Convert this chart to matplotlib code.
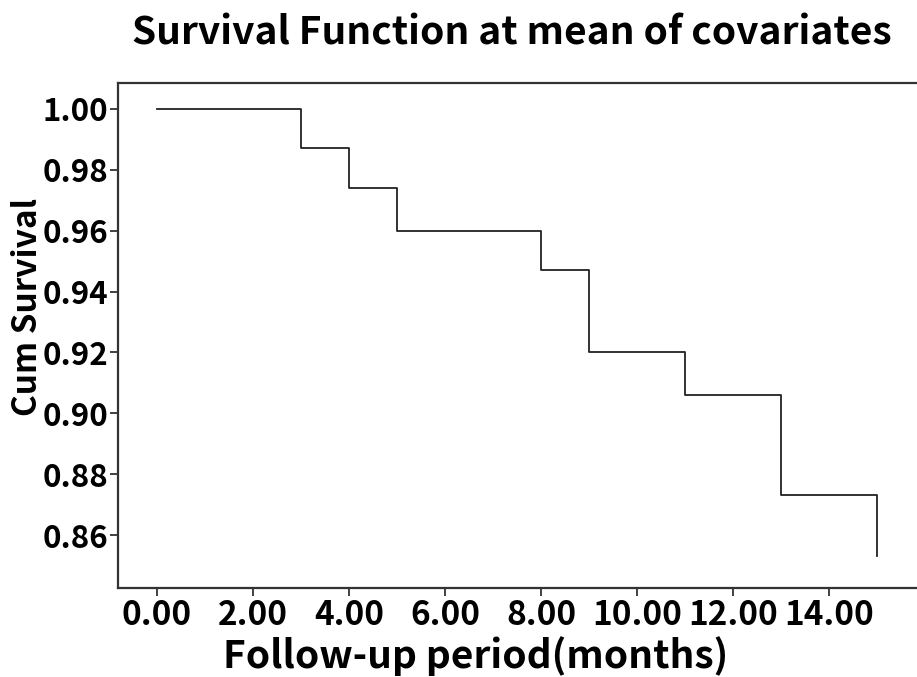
import matplotlib
matplotlib.use("Agg")
import matplotlib.pyplot as plt

plt.rcParams['font.family'] = ['Noto Sans CJK SC', 'DejaVu Sans']

# survival steps
months = [0, 3, 4, 5, 8, 9, 11, 13, 15]
cum_surv = [1.000, 0.987, 0.974, 0.960, 0.947, 0.920, 0.906, 0.873, 0.853]

xticks = [0, 2, 4, 6, 8, 10, 12, 14]
yticks = [0.86, 0.88, 0.90, 0.92, 0.94, 0.96, 0.98, 1.00]

fig = plt.figure(figsize=(9.17, 6.77), dpi=100)
ax = fig.add_axes([118/917, 1 - 588/677, 1 - 118/917, (588 - 83)/677])

ax.plot(months, cum_surv, drawstyle='steps-post', color='#222222', lw=1.3)

ax.set_xlim(-0.81, 15.83)
ax.set_ylim(0.8426, 1.0085)
ax.set_xticks(xticks)
ax.set_xticklabels([f"{v:.2f}" for v in xticks])
ax.set_yticks(yticks)
ax.set_yticklabels([f"{v:.2f}" for v in yticks])

for s in ['left', 'bottom', 'top']:
    ax.spines[s].set_linewidth(1.6)
    ax.spines[s].set_color('#333333')
ax.spines['right'].set_visible(False)

ax.tick_params(axis='both', direction='out', length=6, width=1.3, color='#333333')
ax.tick_params(axis='y', labelsize=22.5, pad=1)
ax.tick_params(axis='x', labelsize=24, pad=2)
for lab in ax.get_xticklabels() + ax.get_yticklabels():
    lab.set_fontweight('bold')

ax.set_xlabel("Follow-up period(months)", fontsize=28, fontweight='bold')
ax.xaxis.set_label_coords(0.448, -0.095)
ax.set_ylabel("Cum Survival", fontsize=24, fontweight='bold')
ax.yaxis.set_label_coords(-0.093, 0.557)
fig.text(0.558, 0.951, "Survival Function at mean of covariates", fontsize=28,
         fontweight='bold', ha='center', va='center')

fig.savefig("out.png", dpi=100)
